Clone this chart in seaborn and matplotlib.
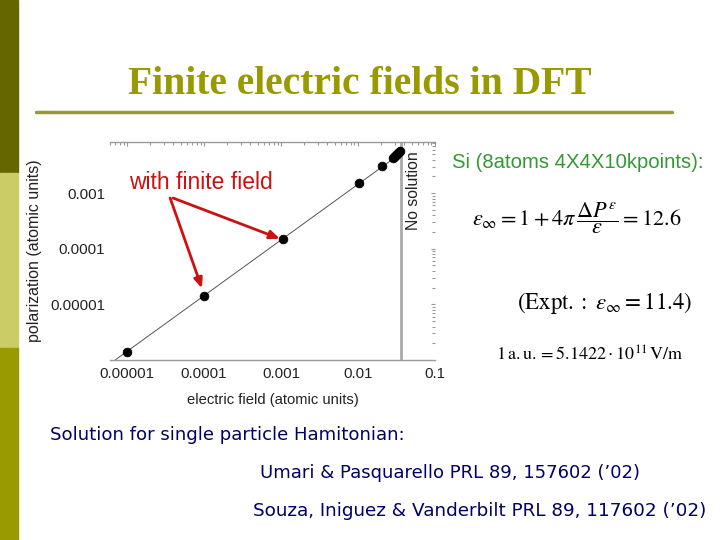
import numpy as np
import pandas as pd
import matplotlib
matplotlib.use("Agg")
import matplotlib.pyplot as plt
import matplotlib.patches as patches
import matplotlib.transforms as mtransforms
import seaborn as sns

# data
field = [1e-5, 1e-4, 1.05e-3, 1.04e-2, 2.04e-2, 0.0285, 0.0295, 0.0305, 0.0315, 0.0325, 0.0335, 0.0345, 0.0355]
polar = [1.38e-6, 1.40e-5, 1.50e-4, 1.50e-3, 3.10e-3, 4.30e-3, 4.50e-3, 4.70e-3, 4.90e-3, 5.10e-3, 5.35e-3, 5.55e-3, 5.80e-3]
fit_field = [7e-6, 0.036]
fit_polar = [1.0e-6, 5.2e-3]
no_solution_at = 0.036
arrow_tips = [(9.4e-5, 1.94e-5), (9.7e-4, 1.51e-4)]
xticks = [1e-5, 1e-4, 1e-3, 1e-2, 1e-1]
xticklabels = ["0.00001", "0.0001", "0.001", "0.01", "0.1"]
yticks = [1e-5, 1e-4, 1e-3]
yticklabels = ["0.00001", "0.0001", "0.001"]

sns.set_style("white")
plt.rcParams['font.family'] = ['Liberation Sans', 'DejaVu Sans']
plt.rcParams['mathtext.fontset'] = 'stix'

fig = plt.figure(figsize=(7.2, 5.4), dpi=100)
fig.patch.set_facecolor("white")

# slide decoration: left colour bar
bar_colors = ["#666600", "#cccc66", "#999900"]
bar_edges = [1.0, 1 - 173 / 540, 1 - 348 / 540, 0.0]
for i, c in enumerate(bar_colors):
    fig.patches.append(patches.Rectangle((0, bar_edges[i + 1]), 18 / 720, bar_edges[i] - bar_edges[i + 1],
                                         transform=fig.transFigure, color=c, zorder=0))
fig.text(0.5, 1 - 85 / 540, "Finite electric fields in DFT", ha="center", va="center",
         fontsize=28.5, fontweight="bold", color="#999900", family=["Liberation Serif", "DejaVu Serif"])
fig.lines.append(plt.Line2D([36 / 720, 672 / 720], [1 - 112 / 540, 1 - 112 / 540],
                            transform=fig.transFigure, color="#999933", lw=2.5))

ax = fig.add_axes([110 / 720, 1 - 360 / 540, 325 / 720, 218 / 540])
df = pd.DataFrame({"field": field, "polar": polar})
fit = pd.DataFrame({"field": fit_field, "polar": fit_polar})
sns.lineplot(data=fit, x="field", y="polar", ax=ax, color="#555555", lw=0.7)
sns.scatterplot(data=df, x="field", y="polar", ax=ax, color="black", s=40, edgecolor="black", zorder=3)
ax.axvline(no_solution_at, color="#aaaaaa", lw=2)

ax.set_xscale("log")
ax.set_yscale("log")
ax.set_xlim(6.0e-6, 0.1)
ax.set_ylim(1.0e-6, 8.3e-3)
ax.set_xticks(xticks)
ax.set_xticklabels(xticklabels)
ax.set_yticks(yticks)
ax.set_yticklabels(yticklabels)
ax.tick_params(which="both", direction="in", top=True, right=True, color="#999999",
               labelsize=10.8, labelcolor="#222222", length=3, width=0.8)
ax.tick_params(which="minor", length=2)
ax.tick_params(axis="x", pad=5)
for s in ["left", "right"]:
    ax.spines[s].set_visible(False)
for s in ["top", "bottom"]:
    ax.spines[s].set_color("#999999")
    ax.spines[s].set_linewidth(1)

ax.set_xlabel("electric field (atomic units)", fontsize=10.6, color="#222222")
ax.set_ylabel("polarization (atomic units)", fontsize=11.5, color="#222222")
ax.xaxis.set_label_coords(0.5, -0.15)
ax.yaxis.set_label_coords(-0.21, 0.5)

trans = mtransforms.blended_transform_factory(ax.transData, ax.transAxes)
ax.text(0.052, 0.775, "No solution", rotation=90, ha="center", va="center",
        fontsize=11.3, color="#222222", transform=trans)

ax.text(0.06, 0.812, "with finite field", ha="left", va="center", fontsize=16.5,
        color="#cc1111", transform=ax.transAxes)
starts = [(0.185, 0.743), (0.194, 0.743)]
for (tx, ty), st in zip(arrow_tips, starts):
    ax.annotate("", xy=(tx, ty), xycoords="data", xytext=st, textcoords="axes fraction",
                arrowprops=dict(arrowstyle="-|>,head_length=0.6,head_width=0.25",
                                color="#cc1111", lw=2, shrinkA=0, shrinkB=0))

# right-hand text
fig.text(452 / 720, 1 - 162 / 540, "Si (8atoms 4X4X10kpoints):", ha="left", va="center",
         fontsize=14.6, color="#339933")
fig.text(577 / 720, 1 - 218 / 540,
         r"$\varepsilon_\infty = 1 + 4\pi\,\dfrac{\Delta P^{\varepsilon}}{\varepsilon} = 12.6$",
         ha="center", va="center", fontsize=16, color="black")
fig.text(605 / 720, 1 - 303 / 540, r"$(\mathrm{Expt.:}\ \varepsilon_\infty = 11.4)$",
         ha="center", va="center", fontsize=16.5, color="black")
fig.text(590 / 720, 1 - 355 / 540, r"$1\,\mathrm{a.u.} = 5.1422\cdot 10^{11}\,\mathrm{V/m}$",
         ha="center", va="center", fontsize=13, color="black")

# bottom text
fig.text(50 / 720, 1 - 435 / 540, "Solution for single particle Hamitonian:", ha="left", va="center",
         fontsize=13.1, color="#000066", family=["DejaVu Sans"])
fig.text(260 / 720, 1 - 473 / 540, "Umari & Pasquarello PRL 89, 157602 (\u201902)", ha="left", va="center",
         fontsize=13, color="#000066", family=["DejaVu Sans"])
fig.text(253 / 720, 1 - 511 / 540, "Souza, Iniguez & Vanderbilt PRL 89, 117602 (\u201902)", ha="left",
         va="center", fontsize=13.2, color="#000066", family=["DejaVu Sans"])

fig.savefig("out.png", dpi=100)
